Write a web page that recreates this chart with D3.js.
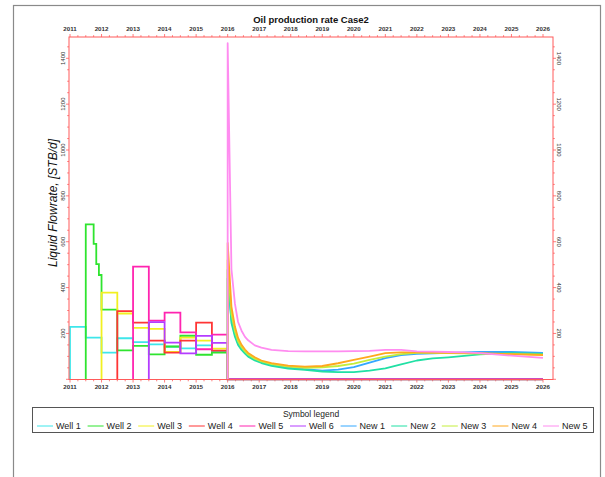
<!DOCTYPE html>
<html><head><meta charset="utf-8">
<script src="https://cdn.jsdelivr.net/npm/d3@7"></script>
<style>html,body{margin:0;padding:0;background:#fff;}svg{display:block;font-family:"Liberation Sans",Arial,sans-serif;}</style>
</head><body><svg id="c" width="605" height="477"></svg>
<script>
const title = "Oil production rate Case2";
const yTitle = "Liquid Flowrate, [STB/d]";
const legendTitle = "Symbol legend";
const seriesNames = ["Well 1","Well 2","Well 3","Well 4","Well 5","Well 6","New 1","New 2","New 3","New 4","New 5"];
const yearTicks = [2011,2012,2013,2014,2015,2016,2017,2018,2019,2020,2021,2022,2023,2024,2025,2026];
const yTicks = [200,400,600,800,1000,1200,1400];

// historical wells: step values (start of each period)
const well1T = [2011,2011.5,2012,2012.5,2013,2013.5,2014,2014.5,2015,2015.5];
const well1V = [229,182,116,179,162,152,142,135,148,121];
const well2T = [2011.5,2011.75,2011.833,2011.917,2012,2012.5,2013,2013.5,2014,2014.5,2015,2015.5];
const well2V = [676,591,502,455,304,126,146,109,143,190,107,116];
const well3T = [2012,2012.5,2013,2013.5,2014,2014.5,2015,2015.5];
const well3V = [378,287,224,220,119,182,169,134];
const well4T = [2012.5,2013,2013.5,2014,2014.5,2015,2015.5];
const well4V = [297,247,169,116,169,247,125];
const well5T = [2013,2013.5,2014,2014.5,2015,2015.5];
const well5V = [491,256,291,205,131,195];
const well6T = [2013.5,2014,2014.5,2015,2015.5];
const well6V = [249,160,113,189,159];
const shutIn = 2016, endTime = 2026;

// forecast wells
const newT = [2016,2016.12,2016.23,2016.33,2016.44,2016.55,2016.65,2016.86,2017.07,2017.39,2017.92,2018.45,2019,2019.5,2020,2020.5,2021,2021.5,2022,2022.5,2023,2023.5,2024,2025,2026];
const new1V = [440,258,195,157,134,117,104,86,75,63,51,44,38,42,53,73,92,106,111,113,115,117,119,119,115];
const new2V = [478,245,186,150,128,112,99,82,71,59,47,41,34,31,31,38,48,65,82,91,96,102,109,114,111];
const new3V = [520,285,210,166,140,122,108,90,78,66,55,50,52,58,68,85,99,110,115,115,114,113,112,110,108];
const new4V = [595,317,230,180,150,130,115,96,82,71,60,55,58,70,85,99,114,117,117,116,115,115,114,110,106];
const new5V = [1466,480,330,250,212,185,170,148,138,128,123,122,122,122,123,124,128,128,122,121,119,117,114,103,93];

const colors = ["#3ee6ea","#2fe42f","#f2f020","#ff3535","#ff24b0","#b43cff","#35a8ff","#20e0a4","#c4ee3c","#ffa81e","#ff8cf0"];

const svg = d3.select("#c");
svg.append("rect").attr("width",605).attr("height",477).attr("fill","#fff");
svg.append("rect").attr("x",13.5).attr("y",5.5).attr("width",587).attr("height",490)
  .attr("fill","none").attr("stroke","#8a8a8a").attr("stroke-width",1.2);

const L=69, R=553, T=37, B=379.5;
const x = d3.scaleLinear().domain([2011,2026]).range([70,543]);
const y = d3.scaleLinear().domain([0,1400]).range([379.3,58.3]);

svg.append("defs").append("clipPath").attr("id","clip").append("rect")
  .attr("x",L).attr("y",T).attr("width",R-L).attr("height",B-T+1);

// title
svg.append("text").attr("x",311).attr("y",23).attr("text-anchor","middle")
  .attr("font-size",9.5).attr("font-weight","bold").attr("fill","#111").text(title);

// axes
const red = "#ff5a5a";
const minorX = d3.range(2011,2026.01,0.25);
const minorY = d3.range(0,1451,50);
const gTicks = svg.append("g").attr("stroke",red).attr("stroke-width",0.8);
minorX.forEach(t=>{
  const major = Math.abs(t-Math.round(t))<1e-6;
  const len = major?3:1.8;
  gTicks.append("line").attr("x1",x(t)).attr("x2",x(t)).attr("y1",B).attr("y2",B+len);
  gTicks.append("line").attr("x1",x(t)).attr("x2",x(t)).attr("y1",T).attr("y2",T-len);
});
minorY.forEach(v=>{
  const major = v%200===0;
  const len = major?3:1.8;
  gTicks.append("line").attr("x1",L).attr("x2",L-len).attr("y1",y(v)).attr("y2",y(v));
  gTicks.append("line").attr("x1",R).attr("x2",R+len).attr("y1",y(v)).attr("y2",y(v));
});
svg.append("g").selectAll("text.xb").data(yearTicks).join("text")
  .attr("x",d=>x(d)).attr("y",388.5).attr("text-anchor","middle")
  .attr("font-size",6.2).attr("font-weight","bold").attr("fill","#333").text(d=>d);
svg.append("g").selectAll("text.xt").data(yearTicks).join("text")
  .attr("x",d=>x(d)).attr("y",31).attr("text-anchor","middle")
  .attr("font-size",6.2).attr("font-weight","bold").attr("fill","#333").text(d=>d);
svg.append("g").selectAll("text").data(yTicks).join("text")
  .attr("transform",d=>`translate(65,${y(d)}) rotate(-90)`).attr("text-anchor","middle")
  .attr("font-size",6).attr("fill","#333").text(d=>d);
svg.append("g").selectAll("text").data(yTicks).join("text")
  .attr("transform",d=>`translate(557,${y(d)}) rotate(90)`).attr("text-anchor","middle")
  .attr("font-size",6).attr("fill","#333").text(d=>d);

svg.append("text").attr("transform","translate(57,203) rotate(-90)").attr("text-anchor","middle")
  .attr("font-size",12).attr("font-style","italic").attr("fill","#111").text(yTitle);

// series
const plot = svg.append("g").attr("clip-path","url(#clip)");
const stepLine = d3.line().x(d=>x(d[0])).y(d=>y(d[1])).curve(d3.curveStepAfter);
const lin = d3.line().x(d=>x(d[0])).y(d=>y(d[1]));
const wells = [[well1T,well1V],[well2T,well2V],[well3T,well3V],[well4T,well4V],[well5T,well5V],[well6T,well6V]];
wells.forEach(([tt,vv],i)=>{
  const pts = [[tt[0],0]].concat(tt.map((t,k)=>[t,vv[k]])).concat([[shutIn,0],[endTime,0]]);
  plot.append("path").attr("d",stepLine(pts)).attr("fill","none")
    .attr("stroke",colors[i]).attr("stroke-width",1.8);
});
const news = [new1V,new2V,new3V,new4V,new5V];
news.forEach((vv,i)=>{
  const pts = [[newT[0],0]].concat(newT.map((t,k)=>[t,vv[k]]));
  plot.append("path").attr("d",lin(pts)).attr("fill","none")
    .attr("stroke",colors[6+i]).attr("stroke-width",1.8).attr("stroke-linejoin","round");
});

// frame
svg.append("rect").attr("x",L).attr("y",T).attr("width",R-L).attr("height",B-T)
  .attr("fill","none").attr("stroke",red).attr("stroke-width",1);

// legend
const lg = svg.append("g");
lg.append("rect").attr("x",32.5).attr("y",407.5).attr("width",561).attr("height",25)
  .attr("fill","#fff").attr("stroke","#555").attr("stroke-width",1);
lg.append("text").attr("x",311).attr("y",416.5).attr("text-anchor","middle")
  .attr("font-size",8.5).attr("fill","#222").text(legendTitle);
seriesNames.forEach((n,i)=>{
  const x0 = 37 + i*50.6;
  lg.append("line").attr("x1",x0).attr("x2",x0+16).attr("y1",426).attr("y2",426)
    .attr("stroke",colors[i]).attr("stroke-width",1);
  lg.append("text").attr("x",x0+19).attr("y",429).attr("font-size",9).attr("fill","#222").text(n);
});
</script></body></html>
